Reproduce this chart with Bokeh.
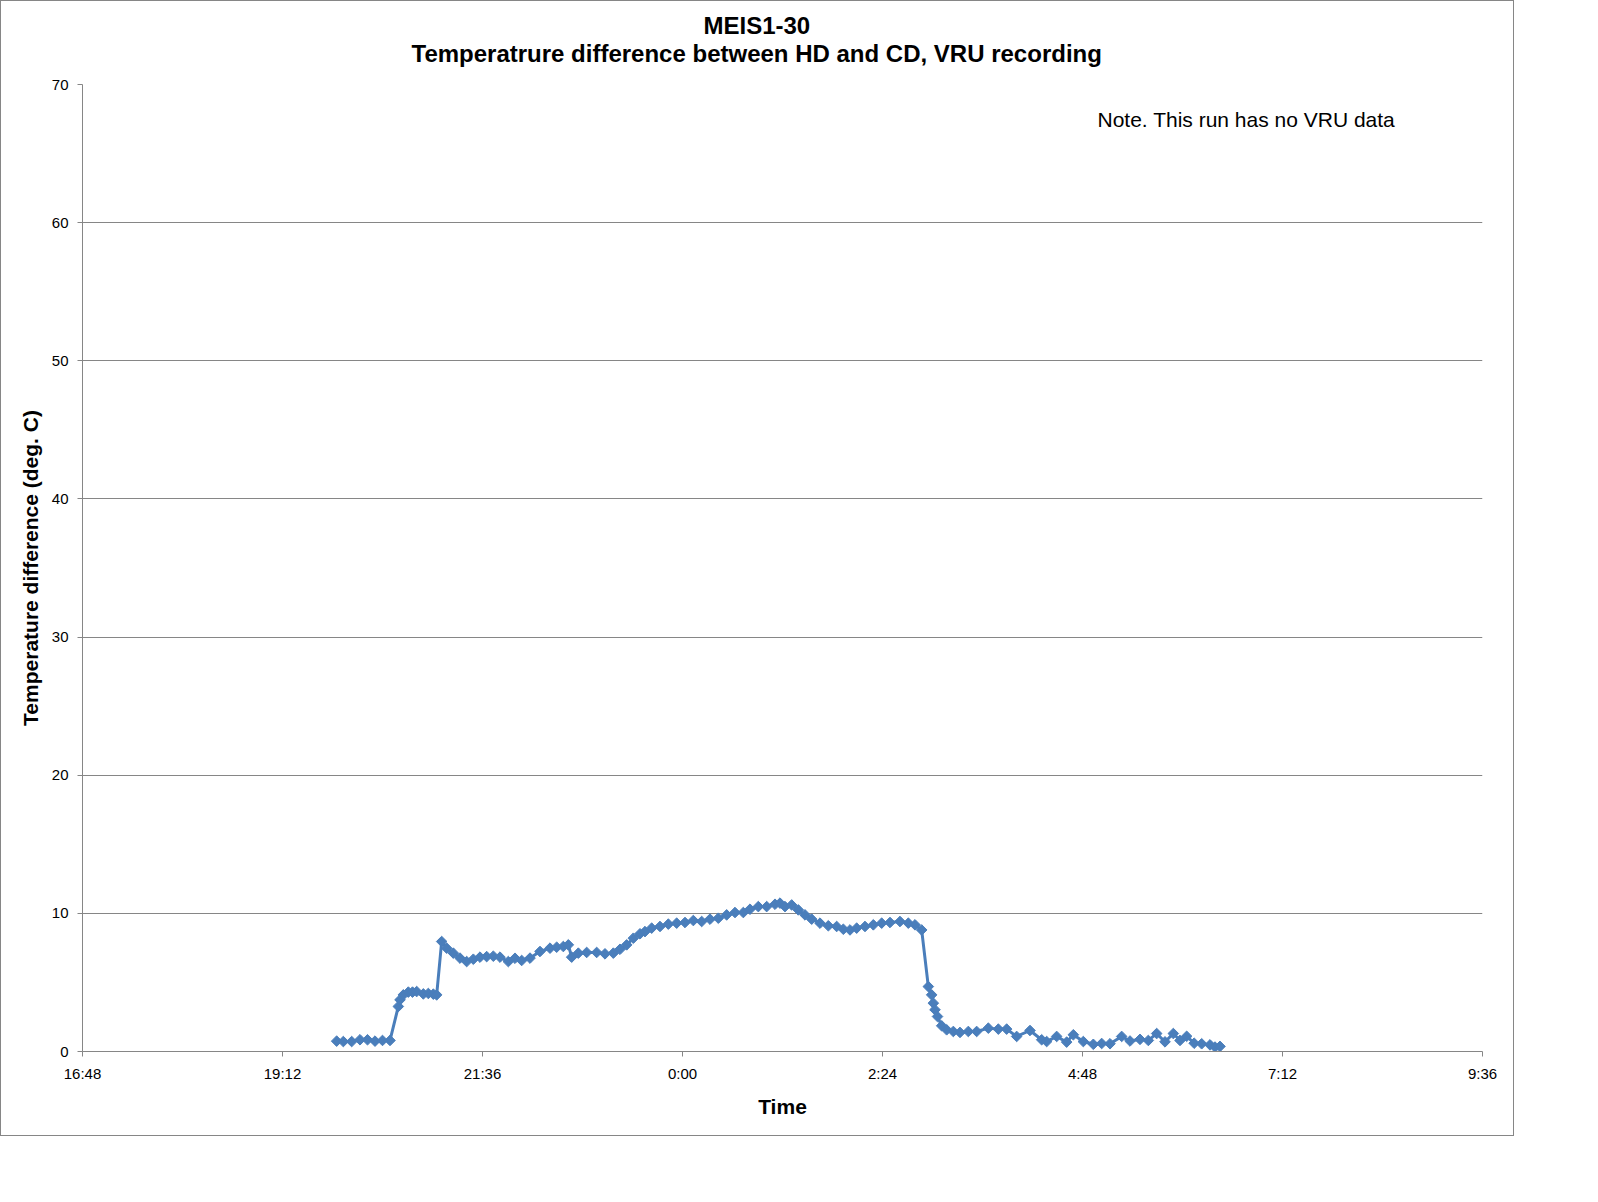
import math
from bokeh.plotting import figure
from bokeh.models import FixedTicker, Label, Range1d, Title
from bokeh.embed import file_html
from bokeh.resources import INLINE

# ---- data (time in hours after midnight of the first day; >24 = next day) ----
hours = [19.85, 19.93, 20.03, 20.13, 20.22, 20.31, 20.40, 20.49, 20.59, 20.61,
         20.65, 20.71, 20.76, 20.81, 20.89, 20.95, 21.01, 21.05, 21.11, 21.17,
         21.25, 21.33, 21.41, 21.49, 21.57, 21.65, 21.73, 21.81, 21.91, 21.99,
         22.07, 22.17, 22.29, 22.41, 22.49, 22.57, 22.63, 22.67, 22.75, 22.85,
         22.97, 23.07, 23.17, 23.25, 23.33, 23.41, 23.49, 23.55, 23.63, 23.73,
         23.83, 23.93, 24.03, 24.13, 24.23, 24.33, 24.43, 24.53, 24.63, 24.73,
         24.81, 24.91, 25.01, 25.11, 25.17, 25.23, 25.31, 25.39, 25.47, 25.55,
         25.65, 25.75, 25.85, 25.93, 26.01, 26.09, 26.19, 26.29, 26.39, 26.49,
         26.61, 26.71, 26.79, 26.87, 26.95, 26.99, 27.01, 27.03, 27.06, 27.11,
         27.17, 27.25, 27.33, 27.43, 27.53, 27.67, 27.79, 27.89, 28.01, 28.17,
         28.31, 28.37, 28.49, 28.61, 28.69, 28.81, 28.93, 29.03, 29.13, 29.27,
         29.37, 29.49, 29.59, 29.69, 29.79, 29.89, 29.97, 30.05, 30.14, 30.23,
         30.33, 30.39, 30.45]
temp_diff = [0.75, 0.72, 0.72, 0.85, 0.85, 0.75, 0.80, 0.80, 3.26, 3.74,
             4.10, 4.30, 4.30, 4.34, 4.17, 4.20, 4.15, 4.10, 7.96, 7.48,
             7.12, 6.76, 6.51, 6.68, 6.83, 6.87, 6.90, 6.83, 6.51, 6.75,
             6.59, 6.76, 7.24, 7.48, 7.55, 7.60, 7.72, 6.83, 7.12, 7.17,
             7.17, 7.07, 7.12, 7.40, 7.72, 8.20, 8.52, 8.68, 8.93, 9.05,
             9.22, 9.29, 9.34, 9.48, 9.41, 9.58, 9.65, 9.89, 10.06, 10.06,
             10.30, 10.49, 10.49, 10.66, 10.74, 10.49, 10.61, 10.25, 9.89, 9.58,
             9.29, 9.10, 9.05, 8.85, 8.80, 8.93, 9.05, 9.17, 9.29, 9.34,
             9.41, 9.29, 9.17, 8.80, 4.70, 4.10, 3.50, 3.02, 2.53, 1.86,
             1.57, 1.45, 1.38, 1.45, 1.45, 1.69, 1.62, 1.62, 1.09, 1.52,
             0.85, 0.72, 1.09, 0.68, 1.21, 0.72, 0.52, 0.58, 0.56, 1.09,
             0.76, 0.88, 0.80, 1.30, 0.70, 1.30, 0.80, 1.10, 0.60, 0.56,
             0.48, 0.32, 0.37]

x_tick_values = [16.8, 19.2, 21.6, 24.0, 26.4, 28.8, 31.2, 33.6]
x_tick_labels = ["16:48", "19:12", "21:36", "0:00", "2:24", "4:48", "7:12", "9:36"]
y_tick_values = [0, 10, 20, 30, 40, 50, 60, 70]

title_line1 = "MEIS1-30"
title_line2 = "Temperatrure difference between HD and CD, VRU recording"
x_label = "Time"
y_label = "Temperature difference (deg. C)"
note_text = "Note. This run has no VRU data"
note_x, note_y = 28.98, 67.5

FONT = "Liberation Sans"
GRAY = "#868686"
BLUE = "#4A7EBB"

p = figure(width=1514, height=1136, output_backend="svg", toolbar_location=None,
           x_range=Range1d(16.8, 33.6), y_range=Range1d(0, 70),
           min_border_left=81, min_border_right=33, min_border_top=83,
           min_border_bottom=86)
p.styles = {"border": "1px solid " + GRAY}
p.outline_line_color = None
p.background_fill_color = "white"
p.border_fill_color = "white"

# titles (first added sits closest to the frame)
t2 = Title(text=title_line2, align="left", offset=329, text_font=FONT,
           text_font_size="24px", text_font_style="bold", text_color="black",
           standoff=36)
t1 = Title(text=title_line1, align="left", offset=621, text_font=FONT,
           text_font_size="24px", text_font_style="bold", text_color="black",
           standoff=-39)
p.add_layout(t2, "above")
p.add_layout(t1, "above")

# axes
p.xaxis.ticker = FixedTicker(ticks=x_tick_values)
p.xaxis.major_label_overrides = {v: s for v, s in zip(x_tick_values, x_tick_labels)}
p.yaxis.ticker = FixedTicker(ticks=y_tick_values)
for ax in (p.xaxis, p.yaxis):
    ax.axis_line_color = GRAY
    ax.major_tick_line_color = GRAY
    ax.minor_tick_line_color = None
    ax.major_tick_out = 5
    ax.major_tick_in = 0
    ax.major_label_text_font = FONT
    ax.major_label_text_font_size = "15px"
    ax.major_label_text_color = "black"
    ax.axis_label_text_font = FONT
    ax.axis_label_text_font_size = "21px"
    ax.axis_label_text_font_style = "bold"
    ax.axis_label_text_color = "black"
p.xaxis.axis_label = x_label
p.yaxis.axis_label = y_label
p.xaxis.major_label_standoff = 8
p.yaxis.major_label_standoff = 9
p.xaxis.axis_label_standoff = 10
p.yaxis.axis_label_standoff = 7

p.xgrid.grid_line_color = None
p.ygrid.grid_line_color = GRAY
p.ygrid.grid_line_width = 1

# series
p.line(hours, temp_diff, line_color=BLUE, line_width=3)
p.scatter(hours, temp_diff, marker="square", angle=math.pi / 4, size=7.5,
          fill_color=BLUE, line_color=BLUE)

p.add_layout(Label(x=note_x, y=note_y, text=note_text, text_font=FONT,
                   text_font_size="21px", text_baseline="middle",
                   text_color="black"))

open("out.html", "w").write(file_html(p, INLINE))
